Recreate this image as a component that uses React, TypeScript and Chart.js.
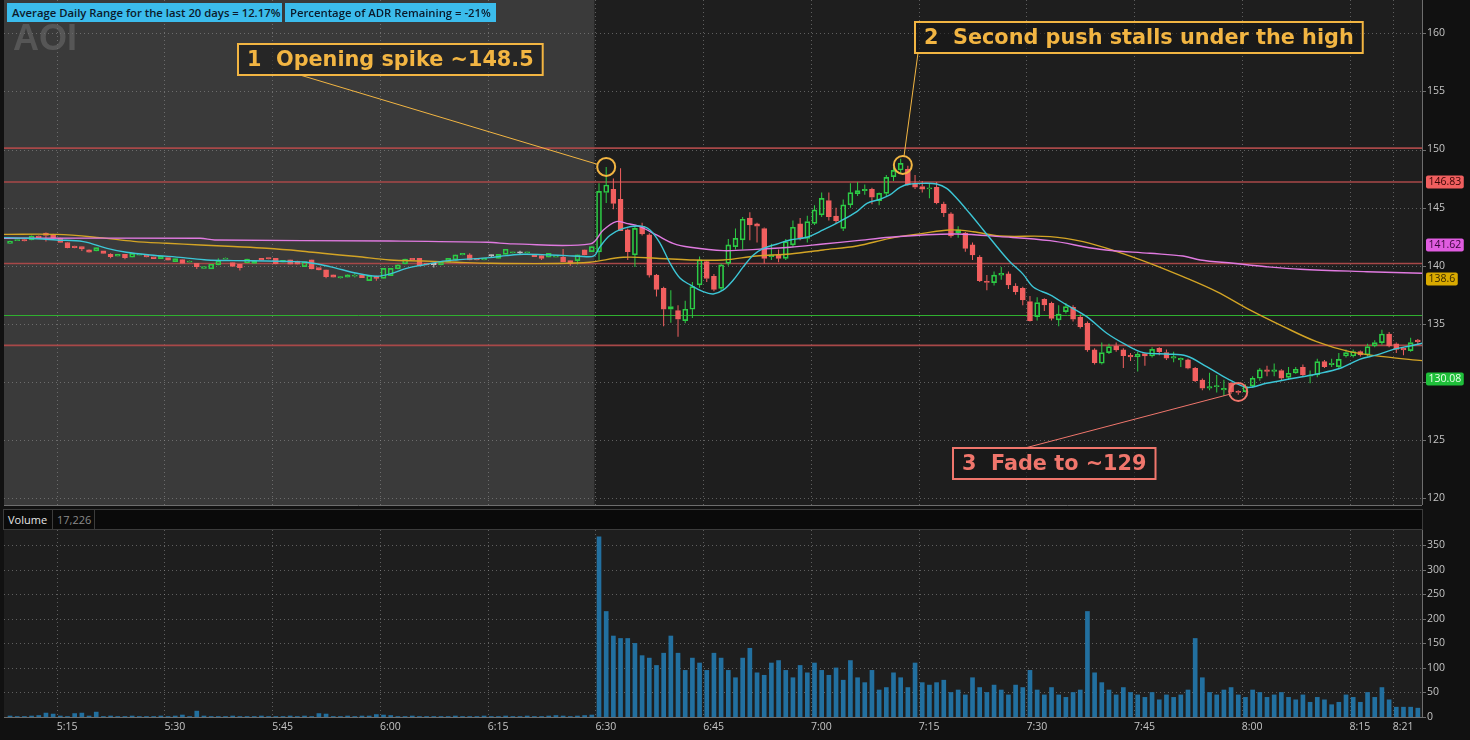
import React, { useEffect, useRef } from 'react';
import { Chart, registerables } from 'chart.js';

Chart.register(...registerables);

// ---------------- data ----------------
// one-minute candles; index 0 = 5:08 (minutes counted from 5:00)
const FIRST_MINUTE = 8;
const REGULAR_OPEN = 90; // 6:30

const opens = [
  141.93,142.15,142.22,142.22,142.56,142.80,142.70,142.36,142.00,141.70,
  141.65,141.36,141.28,141.28,140.98,140.82,140.98,140.73,140.90,140.93,
  140.76,140.60,140.70,140.36,140.53,140.30,140.21,139.78,139.73,140.07,
  140.56,140.27,140.13,140.24,140.21,140.64,140.70,140.64,140.30,140.50,
  140.41,139.93,140.50,139.84,139.64,139.21,138.95,139.01,139.10,139.21,
  138.72,139.12,138.92,139.15,139.73,140.16,140.64,140.64,140.21,140.10,
  140.07,140.30,140.50,140.93,140.93,140.64,140.50,140.85,140.64,140.98,
  141.10,141.10,141.10,140.98,140.87,140.73,140.73,140.73,140.44,140.44,
  141.36,141.22,
  141.20,146.30,146.58,145.72,143.08,140.93,143.40,142.65,139.20,138.06,
  136.26,136.14,135.28,136.26,138.35,140.35,139.10,138.06,140.21,141.65,
  142.22,144.11,143.60,143.20,140.78,140.93,140.64,141.79,143.60,142.36,
  143.65,144.37,145.60,144.28,143.22,145.23,146.20,146.46,146.58,145.60,
  146.23,147.67,148.24,148.30,147.10,146.81,146.60,146.75,145.30,144.46,
  142.85,142.80,141.79,140.73,138.60,138.55,139.20,139.30,138.26,138.06,
  136.91,135.62,137.11,136.77,135.34,136.06,136.43,135.57,135.05,132.76,
  131.61,132.53,133.10,132.76,132.30,132.15,132.45,132.24,132.90,132.53,
  132.04,131.90,131.90,131.18,130.17,129.46,129.60,129.32,129.89,129.20,
  129.17,129.66,130.32,131.04,130.90,130.98,130.40,130.78,131.27,130.50,
  130.60,131.75,131.50,131.32,132.24,132.24,132.61,132.33,133.10,133.39,
  134.13,133.28,132.90,132.70,133.60,
];
const highs = [
  142.15,142.25,142.26,142.60,142.60,142.85,142.75,142.40,142.05,141.72,
  141.68,141.40,141.60,141.30,141.07,141.00,141.00,141.10,141.00,140.95,
  140.78,140.86,140.72,140.64,140.56,140.45,140.23,139.95,140.15,140.64,
  140.70,140.30,140.15,140.60,140.46,140.66,140.72,140.66,140.50,140.52,
  140.43,140.38,140.52,139.86,139.66,139.23,139.10,139.25,139.35,139.23,
  139.17,139.15,139.80,139.80,140.10,140.60,140.66,140.66,140.23,140.13,
  140.40,140.66,140.95,141.10,141.07,140.66,140.66,140.95,141.00,141.44,
  141.20,141.30,141.20,141.00,140.90,141.10,140.88,141.45,140.46,140.95,
  141.38,141.70,
  147.10,148.50,147.50,148.38,143.20,143.40,143.70,142.80,139.30,138.20,
  137.90,136.60,137.00,138.60,140.80,140.50,139.30,140.20,142.30,143.20,
  144.20,144.60,143.70,143.30,141.90,141.40,142.30,143.90,144.10,144.30,
  145.20,146.30,146.30,145.00,145.70,147.10,147.20,147.00,146.70,146.30,
  147.80,148.50,149.20,148.60,147.80,147.30,147.10,147.20,145.50,144.60,
  143.40,142.90,142.00,140.90,139.20,139.50,139.90,139.50,138.50,138.20,
  137.40,137.30,137.20,136.90,136.60,136.80,136.60,135.80,135.20,132.90,
  133.40,133.30,133.40,132.90,132.50,132.60,132.50,133.00,133.00,132.80,
  132.60,132.10,132.00,131.30,130.30,130.80,130.60,130.20,130.00,129.30,
  129.80,130.50,131.20,131.40,131.60,131.10,131.30,131.30,131.50,131.00,
  132.00,131.90,132.00,132.50,132.80,132.80,132.70,133.30,133.60,134.50,
  134.30,133.40,133.00,133.80,133.70,
];
const lows = [
  141.90,142.12,142.10,142.20,142.40,142.08,142.40,141.98,141.50,141.50,
  141.27,141.12,141.25,141.05,140.64,140.80,140.56,140.70,140.88,140.74,
  140.60,140.58,140.45,140.34,140.20,140.28,139.73,139.76,139.72,140.05,
  140.55,139.93,139.60,140.22,140.20,140.45,140.56,140.14,140.28,140.10,
  140.10,139.90,139.70,139.62,138.92,138.98,138.90,139.00,139.00,138.96,
  138.70,138.70,138.90,139.12,139.70,140.14,140.48,139.99,140.05,139.84,
  140.05,140.28,140.48,140.90,140.48,140.48,140.48,140.75,140.62,140.96,
  141.05,140.95,141.05,140.77,140.50,140.70,140.70,140.34,140.00,140.10,
  140.90,141.20,
  140.50,145.40,144.86,143.00,140.50,139.90,142.60,139.00,137.35,134.80,
  135.10,133.90,135.05,135.50,138.10,138.60,137.80,137.90,140.00,141.40,
  141.40,142.20,142.00,140.20,140.50,140.30,140.50,141.60,142.20,142.00,
  143.50,144.20,143.90,143.60,143.00,145.00,146.00,146.10,145.30,145.20,
  146.00,147.30,148.00,146.90,146.60,146.30,145.80,145.30,144.20,142.40,
  142.40,141.20,140.50,138.60,137.90,138.30,138.80,138.00,137.50,136.60,
  135.20,135.30,136.10,135.30,134.80,135.90,135.20,134.60,132.60,131.50,
  131.50,132.40,132.60,131.20,131.80,130.90,131.40,132.10,132.30,131.90,
  131.70,131.30,131.10,130.00,129.30,129.30,129.10,128.80,129.00,128.90,
  129.10,129.50,130.10,130.50,130.50,130.10,130.20,130.70,130.50,129.90,
  130.40,131.20,131.30,131.10,132.10,132.10,132.20,132.20,133.00,133.20,
  133.00,132.50,132.30,132.60,133.20,
];
const closes = [
  142.10,142.22,142.14,142.56,142.42,142.60,142.42,142.00,141.56,141.56,
  141.45,141.16,141.56,141.07,140.79,140.98,140.70,141.07,140.98,140.76,
  140.61,140.84,140.47,140.62,140.21,140.41,139.93,139.93,140.13,140.41,
  140.67,139.95,139.84,140.58,140.44,140.47,140.58,140.16,140.47,140.13,
  140.13,140.36,139.73,139.64,139.07,139.01,139.07,139.21,139.20,138.98,
  139.15,138.92,139.78,139.78,140.07,140.58,140.50,140.01,140.07,140.11,
  140.36,140.64,140.93,141.07,140.50,140.50,140.64,140.86,140.98,141.42,
  141.15,141.11,141.15,140.79,140.64,141.07,140.85,140.36,140.16,140.93,
  140.93,141.65,
  146.40,146.95,145.37,143.02,141.22,143.22,142.74,139.20,137.97,136.26,
  136.49,135.40,136.26,138.20,140.50,138.90,137.97,140.07,141.79,142.36,
  144.00,143.51,143.40,140.64,140.93,140.64,142.08,143.31,142.36,143.80,
  144.80,145.80,144.23,143.88,145.23,146.29,146.46,146.58,145.90,146.23,
  147.60,148.20,148.81,146.95,146.75,146.58,146.70,145.43,144.57,142.57,
  143.08,141.50,140.93,138.72,138.56,139.20,139.35,138.35,137.77,137.06,
  135.28,136.83,136.63,135.48,135.85,136.48,135.40,134.76,132.76,131.67,
  132.53,133.05,132.76,132.27,132.15,132.41,132.24,132.81,132.61,132.04,
  132.18,132.04,131.18,130.12,129.46,129.60,129.66,129.46,129.17,129.10,
  129.60,130.32,131.04,130.90,131.04,130.32,130.75,131.10,130.60,130.60,
  131.75,131.32,131.61,131.95,132.53,132.61,132.33,133.05,133.39,134.13,
  133.10,132.81,132.76,133.39,133.48,
];
const volumes = [
  2,1,1,2,3,8,6,2,1,7,
  8,2,10,1,2,1,1,2,1,1,
  1,2,1,2,4,1,12,2,1,1,
  1,2,1,1,1,2,1,1,1,2,
  1,2,1,7,6,1,1,2,1,2,
  2,5,4,3,1,1,2,1,1,1,
  1,1,2,1,1,1,2,1,1,2,
  1,1,2,1,1,2,3,2,1,2,
  3,4,
  367,215,165,160,160,150,125,120,105,130,
  165,130,95,120,110,95,130,120,95,80,
  120,140,90,85,110,115,95,80,105,90,
  110,95,85,100,75,115,80,70,95,55,
  60,90,80,60,110,70,65,70,75,50,
  55,45,80,60,50,65,55,45,65,60,
  95,55,45,60,45,40,50,55,215,90,
  70,55,45,60,50,45,40,50,35,45,
  40,45,55,160,80,50,45,55,60,45,
  40,55,50,40,45,50,40,35,45,30,
  40,35,25,30,45,40,30,50,40,60,
  35,20,20,20,18,
];

// study lines (minute, price)
const fastTimes = [7.66,11,15,18.7,22,24.7,28,32.6,35.9,39.6,44.2,47.5,49.8,53,56.8,59.5,61.4,63.7,66,68.4,70.7,75.3,77.6,80,83.7,86,88.3,89.8,90.6,92,93.9,96.2,97.6,99,100.4,101.8,103.2,105,106.4,107.8,109.2,110.6,112,113.4,115.2,117.1,119.4,121.7,124,126.4,127.8,129.6,131,132.4,133.8,135.6,137.5,138.9,140.3,142.1,144,145.9,147.7,149.5,151,153.3,155.6,158.4,161.2,163.9,166.3,169.5,172.3,175.1,177.9,180.7,183.4,187.2,190.4,193.7,196.4,198.8,201.1,203.4,205.08];
const fastValues = [142.42,142.36,142.22,142.08,141.5,141.16,140.93,140.7,140.5,140.44,140.41,140.36,140.3,139.93,139.35,139.1,139.3,139.78,140.07,140.36,140.5,140.7,140.87,140.99,140.93,140.87,140.79,140.85,141.6,142.6,143.22,143.42,143.08,141.93,140.21,138.92,138.35,137.77,137.57,137.92,138.78,139.92,140.93,141.5,141.85,142.22,142.45,143.08,143.8,144.66,145.37,145.72,146.09,146.75,147.03,147.09,147.03,146.66,145.8,144.51,143.08,141.64,140.35,139.3,138.15,137.49,136.63,135.62,134.19,133.19,132.53,132.41,132.24,131.32,130.32,129.54,129.89,130.32,130.69,131.18,131.95,132.33,132.81,133.1,133.33];
const vwapTimes = [7.66,35,37,61.4,75,78.5,89.3,91.1,92.9,94.3,96.2,98.5,100.8,103.2,107.8,112.4,117.1,121.7,126.4,131,135.6,140.3,146.3,153.3,160.2,167.2,171.8,174.2,178.8,183.4,188.1,197.4,205.08];
const vwapValues = [142.36,142.36,142.22,142.13,142.02,141.88,141.88,143.08,143.8,143.65,143.36,142.65,141.93,141.59,141.3,141.41,141.59,141.87,142.16,142.45,142.65,142.73,142.51,142.16,141.42,141.07,140.84,140.5,140.21,139.92,139.7,139.49,139.35];
const slowTimes = [7.66,15,21,25.7,30.3,35,39.6,44.2,48.9,52,56.8,61.4,66,70.7,75.3,84.6,89.2,93.9,98.5,103.2,107.8,112.4,117.1,121.7,126.4,131,135.6,139.3,142.6,146.3,153.3,157.9,162.6,167.2,171.8,176.5,181.1,185.8,190.4,195,199.7,205.08];
const slowValues = [142.7,142.7,142.42,142.1,141.93,141.79,141.65,141.5,141.27,141.07,140.79,140.5,140.41,140.3,140.21,140.19,140.3,140.73,140.65,140.5,140.5,140.84,141.01,141.36,141.7,142.36,142.79,143.08,142.93,142.56,142.51,142.07,141.22,140.21,139.06,137.77,136.2,134.76,133.47,132.61,132.18,131.84];

const xTickMinutes = [15,30,45,60,75,90,105,120,135,150,165,180,195,201];
const priceTicks = [120,125,130,135,140,145,150,155,160];
const volumeTicks = [0,50,100,150,200,250,300,350];
const redLevels = [150.12,147.2,140.2,133.15];
const greenLevels = [135.75];
const tagTexts = ['146.83','141.62','138.6','130.08'];
const tagLevels = [147.2,141.8,138.85,130.25];

// ---------------- styling ----------------
const X_MIN = 7.66, X_MAX = 205.08;
const PRICE_MIN = 119.42, PRICE_MAX = 162.86;
const VOL_MAX = 381;
const PAGE_BG = '#111111';
const PANEL_BG = '#1e1e1e';
const PREMARKET_BG = '#3a3a3a';
const GRID_COLOR = 'rgba(150,150,150,0.55)';
const AXIS_COLOR = '#6e6e6e';
const TICK_COLOR = '#c4c4c4';
const GREEN = '#2ccb45';
const RED = '#f15f5f';
const GREY = '#c8c8c8';
const FONT = '"Open Sans", "DejaVu Sans", sans-serif';
const tagBg = ['#f15f5f','#e05ce0','#d9aa00','#1fbf3a'];
const tagFg = ['#3a0606','#3a063a','#3a2a00','#eaffea'];

const annotations = [
  { text: '1  Opening spike ~148.5', color: '#f2b542', left: 238, top: 44, from: [300, 75], target: [91.5, 148.5] },
  { text: '2  Second push stalls under the high', color: '#f2b542', left: 915, top: 22, from: [918, 53], target: [132.8, 148.67] },
  { text: '3  Fade to ~129', color: '#f0766c', left: 953, top: 448, from: [1025, 448], target: [179.5, 129.14] },
];

const fmtTime = (m: number) => {
  const h = 5 + Math.floor(m / 60);
  const mm = Math.round(m % 60);
  return `${h}:${mm < 10 ? '0' : ''}${mm}`;
};

const candleColor = (i: number) => {
  const o = opens[i], c = closes[i];
  if (Math.abs(c - o) < 0.015) return GREY;
  return c > o ? GREEN : RED;
};

function seg(ctx: CanvasRenderingContext2D, x1: number, y1: number, x2: number, y2: number) {
  ctx.beginPath();
  ctx.moveTo(x1, y1);
  ctx.lineTo(x2, y2);
  ctx.stroke();
}

const panelPlugin = (shade: boolean) => ({
  id: 'panel' + (shade ? 'P' : 'V'),
  beforeDraw(chart: any) {
    const { ctx, chartArea: a } = chart;
    const x = chart.scales.x, y = chart.scales.y;
    ctx.save();
    ctx.fillStyle = PAGE_BG;
    ctx.fillRect(0, 0, chart.width, chart.height);
    ctx.fillStyle = PANEL_BG;
    ctx.fillRect(a.left, a.top, a.right - a.left, a.bottom - a.top);
    if (shade) {
      const px = x.getPixelForValue(REGULAR_OPEN);
      ctx.fillStyle = PREMARKET_BG;
      ctx.fillRect(a.left, a.top, px - a.left - 1, a.bottom - a.top);
    }
    ctx.strokeStyle = GRID_COLOR;
    ctx.lineWidth = 1;
    ctx.setLineDash([1, 3]);
    y.ticks.forEach((t: any) => {
      const py = Math.round(y.getPixelForValue(t.value)) + 0.5;
      seg(ctx, a.left, py, a.right, py);
    });
    xTickMinutes.forEach((m) => {
      const px = Math.round(x.getPixelForValue(m)) + 0.5;
      seg(ctx, px, a.top, px, a.bottom);
    });
    ctx.setLineDash([]);
    ctx.strokeStyle = AXIS_COLOR;
    seg(ctx, a.right + 0.5, a.top, a.right + 0.5, a.bottom);
    seg(ctx, a.left, a.bottom + 0.5, a.right, a.bottom + 0.5);
    y.ticks.forEach((t: any) => {
      const py = Math.round(y.getPixelForValue(t.value)) + 0.5;
      seg(ctx, a.right, py, a.right + 4, py);
    });
    ctx.restore();
  },
});

const levelPlugin = {
  id: 'levels',
  beforeDatasetsDraw(chart: any) {
    const { ctx, chartArea: a } = chart;
    const y = chart.scales.y;
    ctx.save();
    ctx.lineWidth = 1.6;
    ctx.strokeStyle = '#a84848';
    redLevels.forEach((v) => { const py = y.getPixelForValue(v); seg(ctx, a.left, py, a.right, py); });
    ctx.lineWidth = 1;
    ctx.strokeStyle = '#2fb02f';
    greenLevels.forEach((v) => { const py = Math.round(y.getPixelForValue(v)) + 0.5; seg(ctx, a.left, py, a.right, py); });
    // watermark
    ctx.fillStyle = 'rgba(105,105,105,0.6)';
    ctx.font = 'bold 36px "Liberation Sans", Arial, sans-serif';
    ctx.textBaseline = 'alphabetic';
    ctx.fillText('AOI', 13, 50);
    ctx.restore();
  },
};

const overlayPlugin = {
  id: 'overlay',
  afterDraw(chart: any) {
    const { ctx, chartArea: a } = chart;
    const x = chart.scales.x, y = chart.scales.y;
    ctx.save();
    // axis tags
    ctx.font = `10.5px ${FONT}`;
    ctx.textBaseline = 'middle';
    tagTexts.forEach((t, i) => {
      const py = Math.round(y.getPixelForValue(tagLevels[i]));
      const w = ctx.measureText(t).width + 5;
      ctx.fillStyle = tagBg[i];
      ctx.beginPath();
      (ctx as any).roundRect(a.right + 4, py - 6.5, w, 13, 2);
      ctx.fill();
      ctx.fillStyle = tagFg[i];
      ctx.fillText(t, a.right + 6.5, py + 0.5);
    });
    // callouts
    ctx.font = `bold 20.8px "DejaVu Sans", sans-serif`;
    annotations.forEach((an) => {
      const cx = x.getPixelForValue(an.target[0]);
      const cy = y.getPixelForValue(an.target[1]);
      const r = 9;
      const dx = cx - an.from[0], dy = cy - an.from[1];
      const d = Math.hypot(dx, dy);
      ctx.strokeStyle = an.color;
      ctx.lineWidth = 1;
      seg(ctx, an.from[0], an.from[1], cx - (dx / d) * r, cy - (dy / d) * r);
      ctx.lineWidth = 2;
      ctx.beginPath();
      ctx.arc(cx, cy, r, 0, Math.PI * 2);
      ctx.stroke();
      const tw = ctx.measureText(an.text).width;
      const bw = tw + 18, bh = 31;
      ctx.fillStyle = 'rgba(22,22,22,0.55)';
      ctx.fillRect(an.left, an.top, bw, bh);
      ctx.lineWidth = 2;
      ctx.strokeRect(an.left, an.top, bw, bh);
      ctx.fillStyle = an.color;
      ctx.textBaseline = 'middle';
      ctx.fillText(an.text, an.left + 9, an.top + bh / 2 + 1);
    });
    ctx.restore();
  },
};

const tickFont = { family: FONT, size: 10.5 };
const noPadY = (s: any) => { s.width = 48; s.paddingTop = 0; s.paddingBottom = 0; };

export default function App() {
  const priceRef = useRef<HTMLCanvasElement>(null);
  const volRef = useRef<HTMLCanvasElement>(null);

  useEffect(() => {
    const xs = opens.map((_, i) => FIRST_MINUTE + i + 0.5);
    const colors = opens.map((_, i) => candleColor(i));
    const bodyFill = opens.map((_, i) => (colors[i] === GREEN ? 'rgba(0,0,0,0)' : colors[i]));

    const priceChart = new Chart(priceRef.current as HTMLCanvasElement, {
      type: 'bar',
      data: {
        datasets: [
          {
            type: 'line', data: fastTimes.map((t, i) => ({ x: t, y: fastValues[i] })),
            borderColor: '#3cc6d6', borderWidth: 1.4, pointRadius: 0, tension: 0.35, order: 1,
          } as any,
          {
            type: 'line', data: vwapTimes.map((t, i) => ({ x: t, y: vwapValues[i] })),
            borderColor: '#e07ae0', borderWidth: 1.4, pointRadius: 0, tension: 0.35, order: 2,
          } as any,
          {
            type: 'line', data: slowTimes.map((t, i) => ({ x: t, y: slowValues[i] })),
            borderColor: '#d3a425', borderWidth: 1.4, pointRadius: 0, tension: 0.35, order: 3,
          } as any,
          {
            type: 'bar', data: xs.map((x, i) => ({ x, y: [opens[i], closes[i]] })),
            backgroundColor: bodyFill, borderColor: colors, borderWidth: 1, borderSkipped: false,
            barThickness: 5, grouped: false, minBarLength: 1.2, order: 4,
          } as any,
          {
            type: 'bar', data: xs.map((x, i) => ({ x, y: [Math.max(opens[i], closes[i]), highs[i]] })),
            backgroundColor: colors, borderWidth: 0, barThickness: 1, grouped: false, inflateAmount: 0, order: 5,
          } as any,
          {
            type: 'bar', data: xs.map((x, i) => ({ x, y: [lows[i], Math.min(opens[i], closes[i])] })),
            backgroundColor: colors, borderWidth: 0, barThickness: 1, grouped: false, inflateAmount: 0, order: 6,
          } as any,
        ],
      },
      options: {
        responsive: false, animation: false, devicePixelRatio: 1, events: [],
        layout: { padding: { left: 4, top: 0, right: 0, bottom: 1 } },
        plugins: { legend: { display: false }, tooltip: { enabled: false } },
        scales: {
          x: { type: 'linear', min: X_MIN, max: X_MAX, offset: false, display: false, bounds: 'data' },
          y: {
            position: 'right', min: PRICE_MIN, max: PRICE_MAX, bounds: 'data',
            afterBuildTicks: (s: any) => { s.ticks = priceTicks.map((v) => ({ value: v })); },
            afterFit: noPadY,
            ticks: { color: TICK_COLOR, font: tickFont, padding: 5, callback: (v: any) => String(v) },
            grid: { display: false, drawTicks: false }, border: { display: false },
          },
        },
      } as any,
      plugins: [panelPlugin(true), levelPlugin, overlayPlugin],
    });

    const volChart = new Chart(volRef.current as HTMLCanvasElement, {
      type: 'bar',
      data: {
        datasets: [{
          data: xs.map((x, i) => ({ x, y: volumes[i] })),
          backgroundColor: '#2270a0', borderWidth: 0, barThickness: 4, grouped: false,
        } as any],
      },
      options: {
        responsive: false, animation: false, devicePixelRatio: 1, events: [],
        layout: { padding: { left: 4, top: 1, right: 0, bottom: 0 } },
        plugins: { legend: { display: false }, tooltip: { enabled: false } },
        scales: {
          x: {
            type: 'linear', min: X_MIN, max: X_MAX, offset: false, bounds: 'data',
            afterBuildTicks: (s: any) => { s.ticks = xTickMinutes.map((v) => ({ value: v })); },
            afterFit: (s: any) => { s.height = 23; s.paddingLeft = 0; s.paddingRight = 0; },
            ticks: { color: TICK_COLOR, font: tickFont, padding: 4, align: 'start', autoSkip: false, maxRotation: 0, callback: (v: any) => fmtTime(Number(v)) },
            grid: { display: false, drawTicks: false }, border: { display: false },
          },
          y: {
            position: 'right', min: 0, max: VOL_MAX, bounds: 'data',
            afterBuildTicks: (s: any) => { s.ticks = volumeTicks.map((v) => ({ value: v })); },
            afterFit: noPadY,
            ticks: { color: TICK_COLOR, font: tickFont, padding: 5, callback: (v: any) => String(v) },
            grid: { display: false, drawTicks: false }, border: { display: false },
          },
        },
      } as any,
      plugins: [panelPlugin(false)],
    });

    return () => {
      priceChart.destroy();
      volChart.destroy();
    };
  }, []);

  const infoBox: React.CSSProperties = {
    position: 'absolute', top: 3, height: 19, background: '#3bbcec', color: '#0b1a2b',
    font: `600 11.3px ${FONT}`, lineHeight: '19px', paddingLeft: 5, boxSizing: 'border-box', whiteSpace: 'nowrap', overflow: 'hidden',
  };

  return (
    <div style={{ position: 'relative', width: 1470, height: 740, background: PAGE_BG, overflow: 'hidden' }}>
      <style>{'body{margin:0;background:#111111;}'}</style>
      <canvas ref={priceRef} width={1470} height={506} style={{ position: 'absolute', left: 0, top: 0, width: 1470, height: 506 }} />
      <canvas ref={volRef} width={1470} height={211} style={{ position: 'absolute', left: 0, top: 529, width: 1470, height: 211 }} />
      <div style={{ ...infoBox, left: 7, width: 275 }}>Average Daily Range for the last 20 days = 12.17%</div>
      <div style={{ ...infoBox, left: 285, width: 211 }}>Percentage of ADR Remaining = -21%</div>
      <div style={{ position: 'absolute', left: 3, top: 509, width: 1420, height: 21, background: '#0a0a0a', border: '1px solid #3c3c3c', boxSizing: 'border-box', font: `11px ${FONT}`, display: 'flex' }}>
        <div style={{ width: 49, color: '#e6e6e6', borderRight: '1px solid #3c3c3c', paddingLeft: 4, lineHeight: '19px', boxSizing: 'border-box' }}>Volume</div>
        <div style={{ width: 42, color: '#8a8a8a', borderRight: '1px solid #3c3c3c', paddingLeft: 4, lineHeight: '19px', boxSizing: 'border-box' }}>17,226</div>
      </div>
    </div>
  );
}
